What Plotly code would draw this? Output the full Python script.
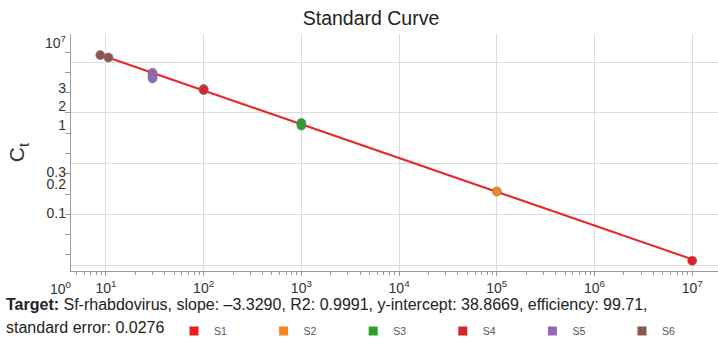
import numpy as np
import plotly.graph_objects as go

# ---- data ----
series_names = ["S1", "S2", "S3", "S4", "S5", "S6"]
series_colors = ["#ec1c24", "#f5861f", "#2ca02c", "#d62728", "#9467bd", "#8c564b"]
quantities = {
    "S1": [1e7],
    "S2": [1e5],
    "S3": [1e3, 1e3],
    "S4": [100, 100],
    "S5": [30, 30, 30],
    "S6": [8.75, 10.6],
}
ct_values = {
    "S1": [15.42],
    "S2": [22.25],
    "S3": [29.0, 28.75],
    "S4": [32.35, 32.25],
    "S5": [33.95, 33.65, 33.4],
    "S6": [35.7, 35.46],
}
slope = -3.3290
intercept = 38.8669
fit_x = [10, 1e7]

x_tick_exponents = [1, 2, 3, 4, 5, 6, 7]
x_tick_labels = ["10<sup>%d</sup>" % e for e in x_tick_exponents]
y_label_positions = [36.9, 32.45, 30.7, 28.8, 24.15, 22.95, 20.1]
y_label_text = ["10<sup>7</sup>", "3", "2", "1", "0.3", "0.2", "0.1"]
y_grid_values = [15, 20, 25, 30, 35]
y_minor_ticks = [16, 18, 20, 22, 24, 26, 28, 30, 32, 34, 36]

FONT = "Liberation Sans"
TXT = "#333333"
AX = "#9a9a9a"
GRID = "#dcdcdc"

fig = go.Figure()

fit_y = [intercept + slope * np.log10(v) for v in fit_x]
fig.add_trace(go.Scatter(x=fit_x, y=fit_y, mode="lines", yaxis="y2",
                         line=dict(color="#e8262a", width=2), showlegend=False,
                         hoverinfo="skip"))

for name, col in zip(series_names, series_colors):
    fig.add_trace(go.Scatter(x=quantities[name], y=ct_values[name], mode="markers", yaxis="y2",
                             marker=dict(color=col, size=9, line=dict(color="rgba(110,110,110,0.6)", width=1)),
                             name=name, showlegend=False))
for name, col in zip(series_names, series_colors):
    fig.add_trace(go.Scatter(x=[None], y=[None], mode="markers",
                             marker=dict(color=col, size=9, symbol="square"),
                             name=name, showlegend=True))

minor_x = [m * 10 ** d for d in range(0, 8) for m in range(2, 10)]
yr = [14.41, 37.78]

fig.update_layout(
    width=718, height=339,
    margin=dict(l=71, r=0, t=34, b=68, autoexpand=False),
    paper_bgcolor="white", plot_bgcolor="white",
    font=dict(family=FONT, color=TXT, size=14),
    title=dict(text="Standard Curve", x=371 / 718, xanchor="center", xref="container",
               y=1 - 18 / 339, yanchor="middle", yref="container", automargin=False,
               font=dict(size=19.5, color="#222222")),
    xaxis=dict(type="log", range=[0.6425, 7.264], automargin=False,
               tickmode="array", tickvals=[10 ** e for e in x_tick_exponents], ticktext=x_tick_labels,
               ticks="outside", ticklen=4, tickcolor=AX,
               showline=True, linecolor=AX, linewidth=1,
               showgrid=True, gridcolor=GRID, gridwidth=1, zeroline=False,
               tickfont=dict(size=14, color=TXT),
               minor=dict(tickmode="array", tickvals=minor_x, ticks="outside", ticklen=3,
                          tickcolor=AX, showgrid=False)),
    yaxis=dict(range=yr, automargin=False, tickmode="array", tickvals=y_grid_values, showticklabels=False,
               ticks="", showline=True, linecolor=AX, linewidth=1,
               showgrid=True, gridcolor=GRID, gridwidth=1, zeroline=False,
               minor=dict(tickmode="array", tickvals=y_minor_ticks, ticks="outside", ticklen=5,
                          tickcolor=AX, showgrid=False)),
    yaxis2=dict(range=yr, overlaying="y", side="left", anchor="x", automargin=False,
                tickmode="array", tickvals=y_label_positions, ticktext=y_label_text,
                ticks="", showline=False, showgrid=False, zeroline=False,
                ticklabelstandoff=4,
                tickfont=dict(size=14, color=TXT),
                title=dict(text="C<sub>t</sub>", font=dict(size=21, color=TXT), standoff=14)),
    legend=dict(orientation="h", x=174 / 718, y=1 - 331 / 339, xref="container", yref="container",
                xanchor="left", yanchor="middle",
                entrywidth=44.6, entrywidthmode="pixels", font=dict(size=10.5, color="#555555"),
                bgcolor="rgba(0,0,0,0)", traceorder="normal"),
    showlegend=True,
)

fig.add_annotation(text="10<sup>0</sup>", xref="paper", yref="paper",
                   x=(61 - 71) / 647, y=0, yshift=-17, xanchor="center", yanchor="middle",
                   showarrow=False, font=dict(size=14, color=TXT))
fig.add_annotation(text="<b>Target:</b> Sf-rhabdovirus, slope: \u20133.3290, R2: 0.9991, y-intercept: 38.8669, efficiency: 99.71,",
                   xref="paper", yref="paper", x=(4 - 71) / 647, y=(271 - 304) / 237,
                   xanchor="left", yanchor="middle", showarrow=False,
                   font=dict(size=16, color="#222222"))
fig.add_annotation(text="standard error: 0.0276",
                   xref="paper", yref="paper", x=(4 - 71) / 647, y=(271 - 327) / 237,
                   xanchor="left", yanchor="middle", showarrow=False,
                   font=dict(size=16, color="#222222"))

fig.write_html("out.html", config={"displayModeBar": False},
               post_script="document.body.style.margin='0px';")
